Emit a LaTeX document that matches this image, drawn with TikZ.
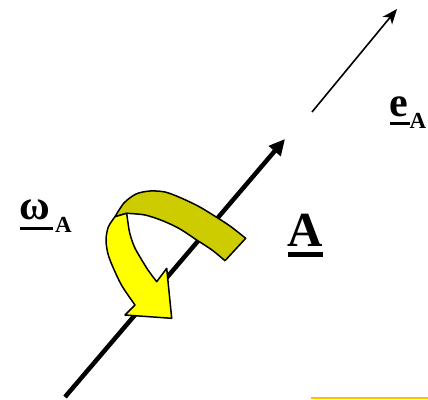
\documentclass[tikz,border=0pt]{standalone}
\usepackage{fontspec}
\setmainfont{Liberation Serif}
\usetikzlibrary{arrows.meta}
\definecolor{olivey}{HTML}{CCCC00}
\definecolor{brighty}{HTML}{FFFF00}
\definecolor{ambery}{HTML}{FFC000}
\tikzset{
  ribbon/.style={draw=black, line width=1.5pt, line join=round},
  lbl/.style={inner sep=0pt, anchor=base west, font=\bfseries},
  uline/.style={fill=black},
}
\begin{document}
\begin{tikzpicture}[x=1pt,y=-1pt]
\useasboundingbox (0,0) rectangle (428,399);
% coordinates
\coordinate (axS) at (65,397);
\coordinate (axE) at (285,139);
\coordinate (eS) at (312,112);
\coordinate (eE) at (397,9);
% main axis
\draw[line width=4.5pt, -{Triangle[length=16pt,width=15pt]}] (axS) -- (axE);
% olive back of ribbon
\filldraw[ribbon, fill=olivey]
  (245.7,238.3) -- plot[smooth] coordinates {(245.7,238.3) (230,226) (213,215) (198,206) (180,197.5) (165,192) (150,191) (136,194) (124,203) (115,216.7)}
  -- (126.7,213.3)
  -- plot[smooth] coordinates {(126.7,213.3) (145,215) (163.3,221) (180,229) (196.7,240) (212,250) (225,260.7)}
  -- cycle;
% yellow front with arrow head
\filldraw[ribbon, fill=brighty]
  (126.7,213.3) -- plot[smooth] coordinates {(126.7,213.3) (129.5,232) (134,246) (140,257) (148,270) (156.7,281.7)}
  -- (166.7,268.3) -- (171.7,318.3) -- (125,315) -- (135,305)
  -- plot[smooth] coordinates {(135,305) (122,286) (113.3,268) (108,254) (106,240) (108.3,227) (115,216.7)}
  -- cycle;
% thin arrow e_A
\draw[line width=1.6pt, -{Stealth[length=15pt,width=12pt,inset=4pt]}] (eS) -- (eE);
% labels
\node[lbl, font=\bfseries\fontsize{49}{49}\selectfont] (A) at (287.5,246) {A};
\fill[uline] (288,252) rectangle (323,256.5);
\node[lbl, font=\bfseries\fontsize{42}{42}\selectfont] (e) at (389,116) {e};
\node[lbl, font=\bfseries\fontsize{23}{23}\selectfont] (eA) at (409.5,128) {A};
\fill[uline] (390,121.5) rectangle (410,125);
\node[lbl, font=\bfseries\fontsize{42}{42}\selectfont] (w) at (19,219.5) {ω};
\node[lbl, font=\bfseries\fontsize{23}{23}\selectfont] (wA) at (55,232.5) {A};
\fill[uline] (20,227) rectangle (53,230);
% amber line bottom right
\draw[ambery, line width=1.5pt] (311,398) -- (428,398);
\end{tikzpicture}
\end{document}
